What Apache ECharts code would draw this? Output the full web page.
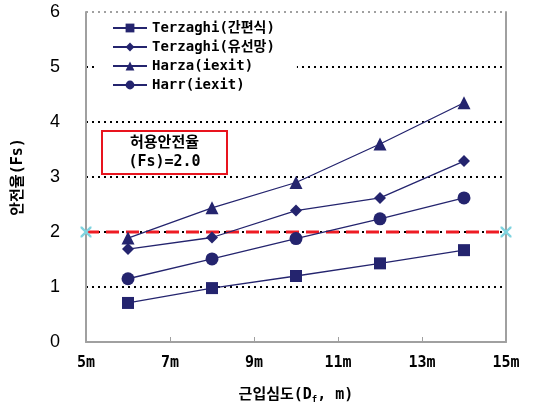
<!DOCTYPE html>
<html><head><meta charset="utf-8">
<script src="https://cdn.jsdelivr.net/npm/echarts@6/dist/echarts.min.js"></script>
<style>html,body{margin:0;padding:0;background:#fff}#c{width:536px;height:413px}</style>
</head><body><div id="c"></div>
<script>
var depths = [6, 8, 10, 12, 14];
var seriesNames = ['Terzaghi(간편식)', 'Terzaghi(유선망)', 'Harza(iexit)', 'Harr(iexit)'];
var terzaghiSimple = [0.71, 0.98, 1.20, 1.43, 1.67];
var terzaghiFlownet = [1.69, 1.90, 2.39, 2.62, 3.29];
var harza = [1.89, 2.44, 2.90, 3.60, 4.35];
var harr = [1.15, 1.51, 1.88, 2.24, 2.62];
var allowX = [5, 15];
var allowFs = [2.0, 2.0];

var navy = '#24246e';
var symbols = ['rect', 'diamond', 'triangle', 'circle'];
var sizes = [12, 12, 13, 13];
var values = [terzaghiSimple, terzaghiFlownet, harza, harr];
var xMark = 'path://M0,0L1.5,0L5,3.5L8.5,0L10,0L10,1.5L6.5,5L10,8.5L10,10L8.5,10L5,6.5L1.5,10L0,10L0,8.5L3.5,5L0,1.5Z';
var labelFont = 'DejaVu Sans Mono, Noto Sans CJK KR';

function pairs(xs, ys){ return xs.map(function(x,i){return [x, ys[i]];}); }

var series = [{
  name: 'allow', type: 'line', data: pairs(allowX, allowFs),
  symbol: xMark, symbolSize: 11,
  itemStyle: {color: '#7fd4e0'},
  lineStyle: {color: '#ee1c24', width: 3, type: [13, 7]},
  z: 5, silent: true
}];
for (var i = 0; i < 4; i++) {
  series.push({
    name: seriesNames[i], type: 'line', data: pairs(depths, values[i]),
    symbol: symbols[i], symbolSize: sizes[i],
    itemStyle: {color: navy},
    lineStyle: {color: navy, width: 1.3},
    z: 6
  });
}

var chart = echarts.init(document.getElementById('c'));
chart.setOption({
  animation: false,
  grid: {left: 86, right: 30, top: 12, bottom: 71},
  legend: {
    data: seriesNames, orient: 'vertical', left: 98, top: 19,
    padding: [2, 22, 2, 14], backgroundColor: '#fff',
    itemWidth: 34, itemHeight: 11, itemGap: 5,
    textStyle: {fontFamily: labelFont, fontWeight: 'bold', fontSize: 14, color: '#000'}
  },
  xAxis: {
    type: 'value', min: 5, max: 15, interval: 2,
    axisLine: {lineStyle: {color: '#a0a0a0', width: 2}},
    axisTick: {inside: true, length: 5, lineStyle: {color: '#a0a0a0'}},
    axisLabel: {formatter: function(v){return v + 'm';}, margin: 14,
      fontFamily: labelFont, fontWeight: 'bold', fontSize: 15, color: '#000'},
    splitLine: {show: false},
    name: '근입심도(D{sub|f}, m)', nameLocation: 'middle', nameGap: 45,
    nameTextStyle: {fontFamily: labelFont, fontWeight: 'bold', fontSize: 15, color: '#000',
      rich: {sub: {fontFamily: labelFont, fontWeight: 'bold', fontSize: 9, padding: [8, 0, 0, 0], color: '#000'}}}
  },
  yAxis: [{
    type: 'value', min: 0, max: 6, interval: 1,
    axisLine: {show: true, lineStyle: {color: '#a0a0a0', width: 2}},
    axisTick: {show: false},
    axisLabel: {margin: 26, fontFamily: 'Liberation Sans', fontSize: 18, color: '#000'},
    splitLine: {show: true, lineStyle: {color: ['#a0a0a0','#000','#000','#000','#000','#000','#a0a0a0'], type: [2, 4], width: 2}},
    name: '안전율(Fs)', nameLocation: 'middle', nameGap: 60, nameRotate: 90,
    nameTextStyle: {fontFamily: labelFont, fontWeight: 'bold', fontSize: 15, color: '#000'}
  }, {
    type: 'value', min: 0, max: 6, position: 'right',
    axisLine: {show: true, lineStyle: {color: '#a0a0a0', width: 2}},
    axisTick: {show: false}, axisLabel: {show: false}, splitLine: {show: false}
  }],
  graphic: [{
    type: 'rect', x: 102, y: 131, shape: {width: 125, height: 43},
    style: {fill: '#fff', stroke: '#e8141e', lineWidth: 2}, z: 10
  }, {
    type: 'text', x: 164.5, y: 134, z: 11,
    style: {text: '허용안전율\n(Fs)=2.0', align: 'center', verticalAlign: 'top', fontFamily: labelFont, fontWeight: 'bold', fontSize: 15, lineHeight: 19, fill: '#000'}
  }],
  series: series
});
</script></body></html>
